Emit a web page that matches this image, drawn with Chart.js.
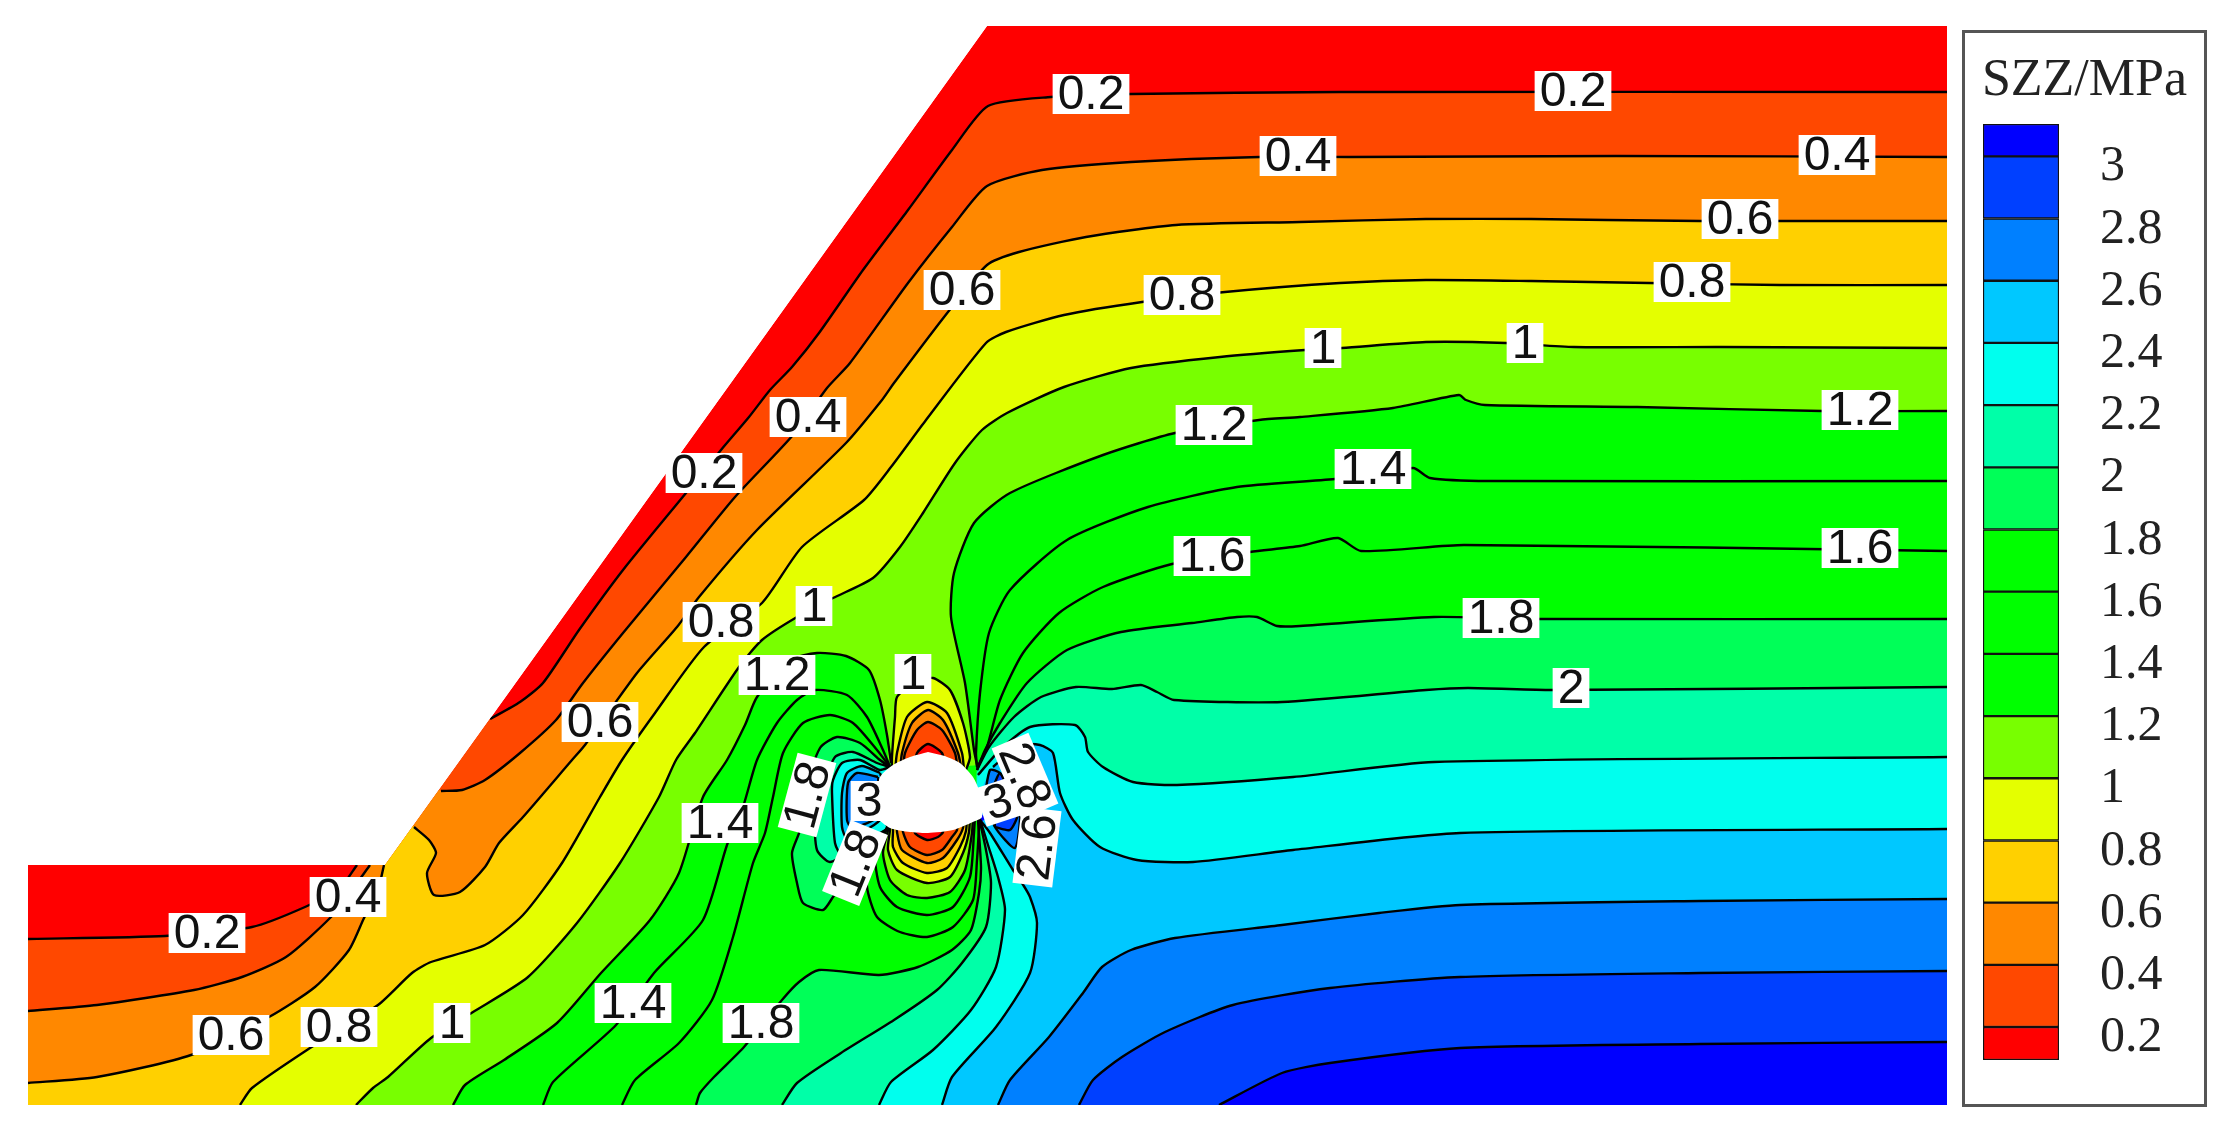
<!DOCTYPE html>
<html>
<head>
<meta charset="utf-8">
<title>SZZ/MPa</title>
<script src="https://cdn.jsdelivr.net/npm/chart.js@4"></script>
<style>
	html, body { margin: 0; padding: 0; background: #fff; overflow: hidden; }
	#wrap { position: relative; width: 2230px; height: 1135px; }
	#chartMain { position: absolute; left: 0; top: 0; filter: blur(0.6px); }
	#legendBox { position: absolute; left: 1962px; top: 30px; width: 245px; height: 1077px; box-sizing: border-box; border: 3px solid #555; }
	#legendTitle { position: absolute; left: 1962px; top: 52px; width: 245px; text-align: center; font: 52px/52px "Liberation Serif", serif; color: #222; filter: blur(0.5px); }
	#chartBar { position: absolute; left: 1975px; top: 110px; filter: blur(0.5px); }
</style>
</head>
<body>
<div id="wrap">
	<canvas id="chartMain" width="2230" height="1135"></canvas>
	<div id="legendBox"></div>
	<div id="legendTitle">SZZ/MPa</div>
	<canvas id="chartBar" width="232" height="970"></canvas>
</div>
<script>
// contour levels and the colour of each band (bandColors[i] is the band below levels[i])
const levels = [0.2, 0.4, 0.6, 0.8, 1, 1.2, 1.4, 1.6, 1.8, 2, 2.2, 2.4, 2.6, 2.8, 3];
const bandColors = ['#ff0000', '#ff4800', '#ff8800', '#ffd000', '#e4ff00', '#78ff00', '#00ff00', '#00ff00', '#00ff00', '#00ff58', '#00ffa8', '#00ffee', '#00c8ff', '#0080ff', '#0040ff', '#0000ff'];
const barEdges = [0.094, 0.2, 0.4, 0.6, 0.8, 1, 1.2, 1.4, 1.6, 1.8, 2, 2.2, 2.4, 2.6, 2.8, 3, 3.104];

// slope section outline and excavation
const domainOutline = [[28,865],[385,865],[987,26],[1947,26],[1947,1105],[28,1105]];
const tunnelOutline = [[928,752],[910,757],[893,765],[880,777],[877,797],[877,817],[890,828],[910,832],[928,833],[953,830],[973,822],[982,817],[980,793],[973,777],[960,763],[945,756]];

// contours
const l02Lower = [[28,939],[165,936],[252,927],[305,907],[340,888],[357,865]];
const l02Upper = [[490,719],[520,702],[543,683],[579,630],[623,570],[686,493],[721,450],[749,417],[770,390],[792,367],[819,333],[863,270],[908,210],[952,150],[988,106],[1051,97],[1131,94],[1340,92],[1947,92]];
const l04Lower = [[28,1011],[97,1005],[194,990],[242,977],[286,957],[330,918],[352,890],[370,865]];
const l04Upper = [[441,791],[462,790],[485,780],[520,753],[556,720],[583,683],[623,633],[686,557],[735,497],[793,435],[827,388],[850,363],[908,283],[952,227],[987,186],[1042,170],[1131,162],[1260,157],[1350,157],[1616,156],[1947,157]];
const l06Lower = [[28,1083],[97,1077],[191,1055],[269,1017],[315,987],[349,950],[364,918],[378,890],[384,865]];
const l06Upper = [[414,827],[429,840],[436,853],[427,873],[434,895],[460,892],[485,867],[499,843],[523,817],[572,760],[585,745],[637,673],[677,627],[699,597],[757,530],[846,443],[882,400],[894,383],[948,312],[987,265],[1019,252],[1086,237],[1176,225],[1300,222],[1426,219],[1531,219],[1607,220],[1700,221],[1947,221]];
const l08 = [[240,1105],[252,1088],[310,1048],[378,1005],[412,973],[431,962],[485,945],[523,915],[562,863],[600,797],[622,760],[655,713],[704,647],[762,603],[802,547],[864,500],[891,467],[926,420],[986,343],[1006,332],[1064,315],[1142,302],[1225,292],[1340,283],[1426,280],[1531,281],[1649,283],[1780,285],[1947,285]];
const l10 = [[356,1105],[373,1088],[388,1077],[431,1038],[473,1012],[528,977],[577,923],[620,863],[659,797],[676,760],[695,733],[739,667],[762,640],[797,617],[833,598],[873,578],[900,547],[923,513],[955,463],[982,430],[1007,413],[1064,387],[1131,368],[1220,357],[1305,350],[1342,348],[1426,342],[1506,343],[1574,347],[1721,347],[1947,348]];
const l12Left = [[453,1105],[465,1085],[504,1060],[557,1023],[601,973],[650,920],[679,873],[703,797],[727,760],[745,725],[757,697],[790,660],[817,653],[846,656],[869,670],[880,700],[887,735],[891,763]];
const l12Right = [[977,765],[974,750],[965,683],[951,617],[954,573],[974,523],[1010,493],[1103,455],[1175,433],[1259,420],[1300,417],[1393,408],[1459,395],[1466,400],[1485,405],[1637,407],[1822,411],[1947,411]];
const l14Left = [[543,1105],[553,1082],[616,1025],[654,973],[703,920],[727,845],[743,807],[757,760],[777,723],[797,700],[815,690],[847,695],[867,717],[883,750],[890,767]];
const l14Right = [[977,767],[976,753],[980,693],[989,633],[1010,590],[1067,540],[1148,507],[1237,487],[1335,479],[1413,468],[1430,478],[1489,481],[1947,481]];
const l16Left = [[622,1105],[635,1080],[679,1043],[712,1000],[733,937],[753,863],[765,833],[773,797],[783,753],[803,723],[830,715],[853,723],[877,750],[890,767]];
const l16Right = [[977,768],[987,747],[1000,700],[1023,653],[1059,613],[1103,587],[1172,564],[1250,552],[1300,546],[1338,538],[1361,551],[1464,545],[1947,551]];
const l18Lower = [[696,1105],[700,1093],[714,1077],[744,1047],[782,1000],[799,982],[819,970],[879,975],[918,967],[952,950],[971,930],[979,893],[981,867],[978,820]];
const l18Upper = [[977,770],[985,750],[1000,723],[1027,683],[1067,650],[1121,632],[1192,623],[1237,617],[1257,617],[1277,626],[1300,626],[1434,617],[1540,619],[1947,619]];
const l20Lower = [[782,1105],[797,1083],[841,1053],[894,1020],[937,990],[962,963],[986,927],[991,883],[986,850],[979,818]];
const l20Upper = [[977,770],[989,747],[1014,717],[1041,697],[1076,687],[1112,689],[1141,685],[1157,692],[1174,700],[1282,702],[1426,690],[1468,688],[1552,690],[1947,687]];
const l22Lower = [[879,1105],[891,1082],[933,1050],[971,1010],[996,967],[1005,910],[998,877],[988,845],[979,816]];
const l22Upper = [[978,775],[1000,750],[1030,727],[1075,725],[1085,737],[1088,752],[1103,767],[1133,782],[1177,785],[1293,777],[1434,762],[1947,757]];
const l24Lower = [[942,1105],[952,1077],[996,1027],[1030,973],[1037,923],[1030,897],[1022,883],[1013,870],[990,833],[980,820]];
const l24Upper = [[993,767],[1020,745],[1040,745],[1053,753],[1060,793],[1073,820],[1100,847],[1137,860],[1193,862],[1293,850],[1460,833],[1947,829]];
const l26 = [[998,1105],[1010,1080],[1049,1037],[1083,993],[1102,967],[1131,950],[1175,938],[1282,925],[1379,913],[1460,905],[1700,901],[1947,899]];
const l28 = [[1079,1105],[1093,1080],[1122,1057],[1165,1032],[1233,1005],[1330,988],[1460,977],[1700,973],[1947,971]];
const l30 = [[1219,1105],[1282,1073],[1330,1063],[1460,1048],[1700,1044],[1947,1042]];

// closed pockets on the left of the tunnel
const pocketL18 = [[890,767],[880,760],[860,743],[837,737],[820,748],[805,790],[800,830],[792,853],[797,883],[803,903],[823,910],[833,897],[860,860],[887,828]];
const pocketL20 = [[890,767],[877,763],[853,752],[835,757],[822,790],[815,820],[817,850],[830,862],[860,845],[887,828]];
const pocketL22 = [[890,767],[880,770],[860,760],[842,763],[833,780],[832,793],[835,843],[842,855],[865,840],[887,828]];
const pocketL24 = [[880,773],[862,766],[847,773],[842,793],[842,827],[847,838],[880,820],[885,790]];
const pocketL26 = [[878,777],[857,773],[848,783],[847,820],[852,828],[880,815]];
// pockets on the right of the tunnel
const pocketR26 = [[985,795],[995,827],[1015,848],[1020,810],[1010,790],[1000,773],[990,770]];
const pocketR28 = [[995,827],[1010,830],[1018,813],[1008,790],[1000,773],[993,790]];
const pocketR30 = [[979,812],[986,818],[981,822]];

// low stress pocket above the crown
const crownL10 = [[892,772],[892,757],[895,717],[897,697],[915,682],[933,678],[950,690],[963,723],[970,757],[966,770]];
const crownL08 = [[895,772],[897,753],[907,717],[927,702],[947,713],[962,753],[964,770]];
const crownL06 = [[900,772],[902,753],[912,723],[928,710],[943,720],[958,753],[962,772]];
const crownL04 = [[903,772],[905,753],[917,730],[928,722],[942,730],[955,753],[958,772]];
const crownL02 = [[913,772],[917,753],[928,744],[942,753],[946,772]];
// and below the invert
const invertL16 = [[886,820],[887,828],[870,853],[867,887],[877,917],[900,932],[927,937],[953,927],[973,900],[977,860],[979,825],[979,815]];
const invertL14 = [[886,820],[887,828],[875,853],[880,887],[897,907],[927,915],[953,907],[970,877],[974,833],[975,815]];
const invertL12 = [[888,820],[888,830],[883,853],[890,880],[907,895],[927,898],[950,892],[965,870],[972,833],[973,815]];
const invertL10 = [[890,820],[890,830],[888,850],[897,870],[927,883],[950,877],[963,853],[969,832],[970,815]];
const invertL08 = [[893,820],[893,831],[893,847],[903,863],[927,873],[947,868],[960,847],[966,831],[967,815]];
const invertL06 = [[897,820],[897,832],[902,850],[927,863],[943,858],[957,840],[963,828],[964,815]];
const invertL04 = [[903,820],[903,832],[910,847],[927,855],[942,850],[952,837],[957,830],[958,815]];
const invertL02 = [[915,822],[915,833],[927,840],[938,837],[943,832],[943,822]];

// contour labels
const labelTexts = ['0.2','0.2','0.4','0.4','0.6','0.8','0.6','0.8','1','1','1.2','1.2','1.4','1.6','1.6','1.8','2','0.4','0.2','0.8','1','1.2','1','0.6','1.4','0.4','0.2','0.6','0.8','1','1.4','1.8','1.8','1.8','3','3','2.8','2.6'];
const labelXs = [1091,1573,1298,1837,1740,1692,962,1182,1323,1525,1214,1860,1373,1212,1860,1501,1571,808,704,721,814,777,913,600,720,348,207,231,339,452,633,761,807,855,869,998,1025,1037];
const labelYs = [94,91,156,155,219,282,290,295,348,343,425,410,469,556,548,618,688,417,473,622,606,675,674,722,823,897,933,1035,1027,1023,1003,1023,795,863,801,802,776,847];
const labelAngles = [0,0,0,0,0,0,0,0,0,0,0,0,0,0,0,0,0,0,0,0,0,0,0,0,0,0,0,0,0,0,0,0,-75,-68,0,-18,67,-83];

function pts(path){ return path.map(([x, y]) => ({ x, y })); }

// region above a level: contour pieces joined, closed outside the section
function rightClosed(startX, startY, path){
	const lastY = path[path.length - 1][1];
	return path.concat([[2010,lastY],[2010,1160],[startX,1160],[startX,startY]]);
}

const paintOrder = [];
function addFill(path, level){
	paintOrder.push({ data: pts(path), fill: 'shape', backgroundColor: bandColors[level], borderColor: 'transparent', borderWidth: 0 });
}
function addLine(path, closed){
	paintOrder.push({ data: pts(closed ? path.concat([path[0]]) : path), fill: false, borderColor: '#000', borderWidth: 2.4 });
}

addFill(domainOutline, 0);
paintOrder[0].tension = 0;
addFill(rightClosed(0, 939, l02Lower.concat([[357,850],[470,700]], l02Upper)), 1);
addFill(rightClosed(0, 1011, l04Lower.concat([[370,850],[425,775]], l04Upper)), 2);
addFill(rightClosed(0, 1083, l06Lower.concat([[384,852],[400,812]], l06Upper)), 3);
addFill(rightClosed(240, 1105, l08), 4);
addFill(rightClosed(356, 1105, l10), 5);
addFill(rightClosed(453, 1105, l12Left.concat(l12Right)), 6);
addFill(rightClosed(543, 1105, l14Left.concat(l14Right)), 7);
addFill(rightClosed(622, 1105, l16Left.concat(l16Right)), 8);
addFill(rightClosed(696, 1105, l18Lower.concat(l18Upper)), 9);
addFill(pocketL18, 9);
addFill(rightClosed(782, 1105, l20Lower.concat(l20Upper)), 10);
addFill(pocketL20, 10);
addFill(rightClosed(879, 1105, l22Lower.concat(l22Upper)), 11);
addFill(pocketL22, 11);
addFill(rightClosed(942, 1105, l24Lower.concat([[978,800]], l24Upper)), 12);
addFill(pocketL24, 12);
addFill(rightClosed(998, 1105, l26), 13);
addFill(pocketL26, 13);
addFill(pocketR26, 13);
addFill(rightClosed(1079, 1105, l28), 14);
addFill(pocketR28, 14);
addFill(rightClosed(1219, 1105, l30), 15);
addFill(pocketR30, 15);

addFill(crownL10, 4);
addFill(crownL08, 3);
addFill(crownL06, 2);
addFill(crownL04, 1);
addFill(crownL02, 0);
addFill(invertL16, 7);
addFill(invertL14, 6);
addFill(invertL12, 5);
addFill(invertL10, 4);
addFill(invertL08, 3);
addFill(invertL06, 2);
addFill(invertL04, 1);
addFill(invertL02, 0);

[l02Lower, l02Upper, l04Lower, l04Upper, l06Lower, l06Upper, l08, l10, l12Left, l12Right, l14Left, l14Right, l16Left, l16Right,
	l18Lower, l18Upper, l20Lower, l20Upper, l22Lower, l22Upper, l24Lower, l24Upper, l26, l28, l30,
	crownL10, crownL08, crownL06, crownL04, crownL02, invertL16, invertL14, invertL12, invertL10, invertL08, invertL06, invertL04, invertL02].forEach(p => addLine(p, false));
[pocketL18, pocketL20, pocketL22, pocketL24, pocketL26, pocketR26, pocketR28].forEach(p => addLine(p, true));

paintOrder.push({ data: pts(tunnelOutline), fill: 'shape', backgroundColor: '#fff', borderColor: 'transparent', borderWidth: 0 });

// first entry has to be painted first, chart.js paints the highest order first
paintOrder.forEach((d, i) => {
	d.order = paintOrder.length - i;
	d.showLine = true;
	d.pointRadius = 0;
	if (d.tension === undefined) d.tension = 0.22;
});

const clipSection = {
	id: 'clipSection',
	beforeDatasetsDraw(chart){
		const { ctx, scales } = chart;
		ctx.save();
		ctx.beginPath();
		domainOutline.forEach(([x, y], i) => {
			const px = scales.x.getPixelForValue(x), py = scales.y.getPixelForValue(y);
			i ? ctx.lineTo(px, py) : ctx.moveTo(px, py);
		});
		ctx.closePath();
		ctx.clip();
	},
	afterDatasetsDraw(chart){ chart.ctx.restore(); }
};

const contourLabels = {
	id: 'contourLabels',
	afterDraw(chart){
		const { ctx, scales } = chart;
		ctx.save();
		ctx.font = '48px "Liberation Sans", Arial, sans-serif';
		ctx.textAlign = 'center';
		ctx.textBaseline = 'middle';
		labelTexts.forEach((t, i) => {
			const w = ctx.measureText(t).width + 10;
			ctx.save();
			ctx.translate(scales.x.getPixelForValue(labelXs[i]), scales.y.getPixelForValue(labelYs[i]));
			ctx.rotate(labelAngles[i] * Math.PI / 180);
			ctx.fillStyle = '#fff';
			ctx.fillRect(-w / 2, -20, w, 40);
			ctx.fillStyle = '#111';
			ctx.fillText(t, 0, 2);
			ctx.restore();
		});
		ctx.restore();
	}
};

new Chart(document.getElementById('chartMain'), {
	type: 'scatter',
	data: { datasets: paintOrder },
	plugins: [clipSection, contourLabels],
	options: {
		responsive: false,
		animation: false,
		devicePixelRatio: 1,
		layout: { padding: 0 },
		plugins: { legend: { display: false }, tooltip: { enabled: false } },
		scales: {
			x: { type: 'linear', display: false, min: 0, max: 2230 },
			y: { type: 'linear', display: false, min: 0, max: 1135, reverse: true }
		}
	}
});

new Chart(document.getElementById('chartBar'), {
	type: 'bar',
	data: {
		labels: ['SZZ'],
		datasets: bandColors.map((c, i) => ({
			data: [[barEdges[i], barEdges[i + 1]]],
			backgroundColor: c,
			borderColor: '#111',
			borderWidth: 1.5,
			borderSkipped: false,
			barPercentage: 1,
			categoryPercentage: 1,
			grouped: false
		}))
	},
	options: {
		responsive: false,
		animation: false,
		devicePixelRatio: 1,
		layout: { padding: { left: 8, top: 14, bottom: 20, right: 0 } },
		plugins: { legend: { display: false }, tooltip: { enabled: false } },
		scales: {
			x: { display: false },
			y: {
				position: 'right',
				min: 0.094,
				max: 3.104,
				grid: { display: false, drawTicks: false },
				border: { display: false },
				afterFit(s){ s.width = 148; s.paddingTop = 0; s.paddingBottom = 0; },
				afterBuildTicks(s){ s.ticks = levels.map(v => ({ value: v })); },
				ticks: {
					autoSkip: false,
					padding: 41,
					labelOffset: 11,
					color: '#222',
					font: { family: '"Liberation Serif", serif', size: 50 },
					callback(v){ return String(v); }
				}
			}
		}
	}
});
</script>
</body>
</html>
